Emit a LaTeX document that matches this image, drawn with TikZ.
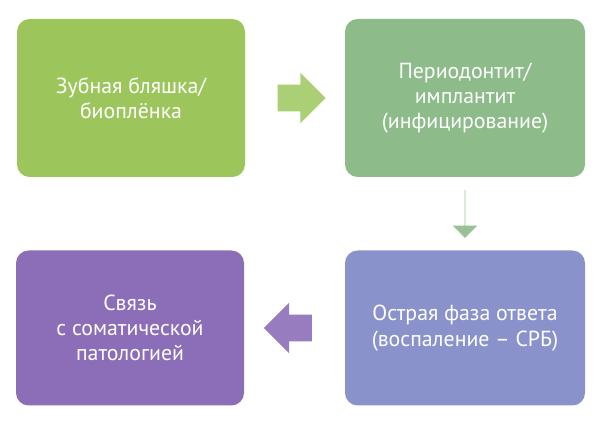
\documentclass[tikz,border=0pt]{standalone}
\usepackage{fontspec}
\setmainfont{PT Sans}
\usetikzlibrary{shapes.arrows,positioning,calc}
\definecolor{plaque}{HTML}{9CC65C}
\definecolor{perio}{HTML}{8DBB8A}
\definecolor{acute}{HTML}{8A92CC}
\definecolor{link}{HTML}{8B6DB8}
\tikzset{
  stage/.style={rounded corners=9pt, minimum width=228*0.025cm, minimum height=158*0.025cm,
    text=white, align=center, font=\fontsize{15.5}{18}\selectfont, inner sep=2pt},
  blockarrow/.style={single arrow, minimum height=48*0.025cm, inner xsep=0pt, inner ysep=13*0.025cm,
    single arrow head extend=12*0.025cm, single arrow tip angle=90}
}
\begin{document}
\begin{tikzpicture}[x=0.025cm,y=-0.025cm]
  \useasboundingbox (0,0) rectangle (600,425);
  \node [stage, fill=plaque] (plaque) at (131,98) {Зубная бляшка/\\биоплёнка};
  \node [stage, fill=perio, minimum width=240*0.025cm] (perio) at (465,98) {Периодонтит/\\имплантит\\(инфицирование)};
  \node [stage, fill=acute, minimum width=240*0.025cm, minimum height=155*0.025cm] (acute) at (465,328) {Острая фаза ответа\\(воспаление – СРБ)};
  \node [stage, fill=link, minimum height=155*0.025cm] (link) at (130,328) {Связь\\с соматической\\патологией};
  \node [blockarrow, fill=plaque!85!white] (toperio) at ($(plaque.east)!0.5!(perio.west)$) {};
  \node [blockarrow, fill=perio!90!white, shape border rotate=270] (toacute) at ($(perio.south)!0.5!(acute.north)$) {};
  \node [blockarrow, fill=link!90!white, shape border rotate=180] (tolink) at ($(acute.west)!0.5!(link.east)$) {};
\end{tikzpicture}
\end{document}
